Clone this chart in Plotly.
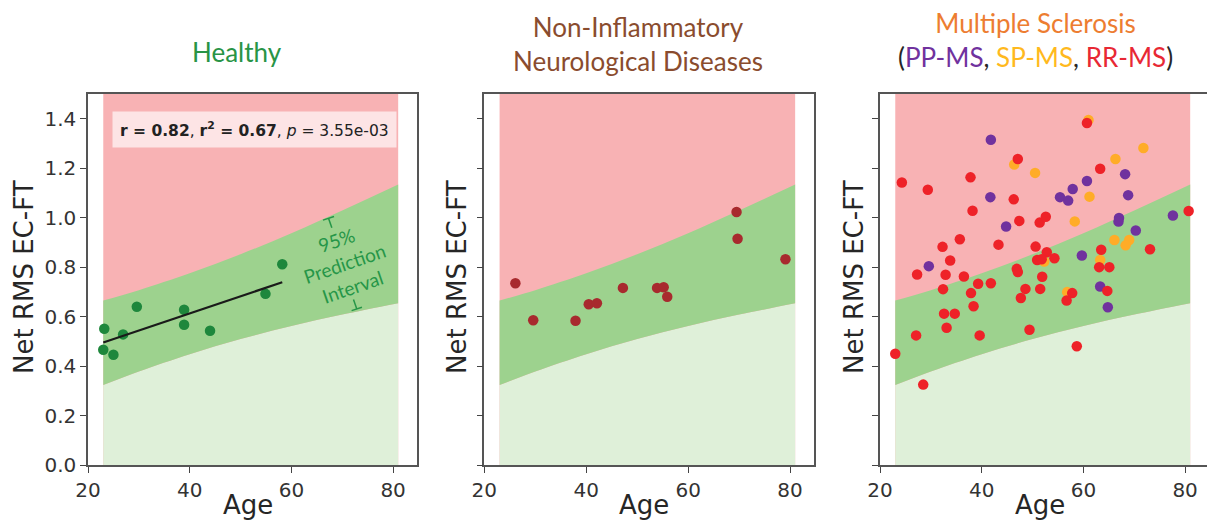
import plotly.graph_objects as go

# ---------------- data ----------------
band_age = [23, 30, 40, 50, 60, 70, 81]
band_upper = [0.665, 0.707, 0.775, 0.852, 0.937, 1.029, 1.134]
band_lower = [0.323, 0.378, 0.448, 0.509, 0.562, 0.608, 0.654]

healthy_age = [23.2, 23.0, 25.0, 26.9, 29.6, 38.9, 38.9, 44.0, 54.9, 58.2]
healthy_val = [0.551, 0.466, 0.446, 0.528, 0.640, 0.628, 0.567, 0.543, 0.692, 0.812]

fit_age = [23.0, 58.2]
fit_val = [0.495, 0.739]

nind_age = [26.1, 29.6, 37.9, 40.5, 42.1, 47.2, 53.9, 55.2, 55.9, 69.5, 69.7, 79.1]
nind_val = [0.735, 0.585, 0.583, 0.650, 0.654, 0.716, 0.716, 0.719, 0.680, 1.023, 0.915, 0.832]

sp_age = [61.0, 71.8, 66.3, 46.4, 50.5, 61.2, 58.3, 66.1, 69.0, 68.3, 63.3, 52.3, 56.8]
sp_val = [1.395, 1.282, 1.237, 1.215, 1.181, 1.085, 0.985, 0.910, 0.910, 0.888, 0.829, 0.823, 0.699]

pp_age = [41.8, 41.7, 29.6, 44.8, 55.4, 57.0, 57.9, 60.7, 68.2, 68.8, 67.0, 66.9, 70.3, 77.6, 59.7, 63.3, 64.8]
pp_val = [1.315, 1.083, 0.804, 0.964, 1.083, 1.069, 1.116, 1.148, 1.176, 1.091, 0.999, 0.984, 0.948, 1.009, 0.847, 0.722, 0.638]

rr_age = [60.7, 47.1, 63.3, 24.3, 29.4, 37.8, 46.3, 38.2, 47.4, 51.4, 52.6, 35.7, 43.3, 32.3, 50.6,
          52.8, 33.8, 50.9, 51.8, 54.3, 63.5, 73.1, 80.7, 46.9, 47.1, 63.1, 65.1, 27.3, 32.9, 36.5,
          51.9, 39.3, 41.8, 32.4, 37.9, 48.6, 51.5, 57.8, 64.7, 47.7, 56.7, 38.4, 32.6, 34.7, 33.1,
          27.1, 39.6, 49.4, 58.7, 23.0, 28.5]
rr_val = [1.383, 1.237, 1.198, 1.142, 1.113, 1.163, 1.074, 1.028, 0.987, 0.980, 1.004, 0.913, 0.891, 0.882, 0.883,
          0.860, 0.827, 0.829, 0.832, 0.836, 0.870, 0.872, 1.027, 0.793, 0.780, 0.800, 0.800, 0.770, 0.769, 0.762,
          0.761, 0.733, 0.735, 0.711, 0.695, 0.712, 0.712, 0.695, 0.704, 0.675, 0.665, 0.642, 0.612, 0.612, 0.555,
          0.524, 0.524, 0.547, 0.480, 0.450, 0.325]

x_ticks = [20, 40, 60, 80]
y_ticks = [0.0, 0.2, 0.4, 0.6, 0.8, 1.0, 1.2, 1.4]
X_RANGE = [20, 84.7]
Y_RANGE = [0, 1.5]

# ---------------- styles ----------------
PINK = "rgb(248,178,180)"
GREEN = "rgb(157,210,142)"
LIGHT = "rgb(223,240,217)"
TXT = "#262626"
OFF = 8                       # default page margin of the html body
W, H = 1215 - OFF, 527 - OFF


def px(p):
    return (p - OFF) / W


def py(p):
    return 1 - (p - OFF) / H


domains = [[px(88), px(417)], [px(484.3), px(814)], [px(880), px(1209)]]
ydom = [py(465), py(94)]

fig = go.Figure()


def add_band(i):
    xa = "x" if i == 0 else f"x{i+1}"
    ya = "y" if i == 0 else f"y{i+1}"
    fig.add_shape(type="rect", xref=xa, yref=ya, x0=band_age[0], x1=band_age[-1],
                  y0=Y_RANGE[0], y1=Y_RANGE[1], fillcolor=PINK, line_width=0, layer="below")
    fig.add_trace(go.Scatter(x=band_age, y=band_lower, xaxis=xa, yaxis=ya, mode="lines",
                             line=dict(width=0, shape="spline"), fill="tozeroy", fillcolor=LIGHT,
                             hoverinfo="skip", showlegend=False))
    fig.add_trace(go.Scatter(x=band_age, y=band_upper, xaxis=xa, yaxis=ya, mode="lines",
                             line=dict(width=0, shape="spline"), fill="tonexty", fillcolor=GREEN,
                             hoverinfo="skip", showlegend=False))
    return xa, ya


def pts(x, y, xa, ya, color, name):
    fig.add_trace(go.Scatter(x=x, y=y, xaxis=xa, yaxis=ya, mode="markers", name=name,
                             marker=dict(size=10.5, color=color, line=dict(width=0)),
                             showlegend=False))


# panel 1
xa, ya = add_band(0)
pts(healthy_age, healthy_val, xa, ya, "rgb(30,135,60)", "Healthy")
fig.add_trace(go.Scatter(x=fit_age, y=fit_val, xaxis=xa, yaxis=ya, mode="lines",
                         line=dict(color="#1a1a1a", width=2.2), showlegend=False))
# panel 2
xa, ya = add_band(1)
pts(nind_age, nind_val, xa, ya, "rgb(168,42,46)", "NIND")
# panel 3
xa, ya = add_band(2)
pts(sp_age, sp_val, xa, ya, "rgb(255,172,40)", "SP-MS")
pts(pp_age, pp_val, xa, ya, "rgb(112,50,158)", "PP-MS")
pts(rr_age, rr_val, xa, ya, "rgb(238,34,40)", "RR-MS")

axis_common = dict(showgrid=False, zeroline=False, showline=True, linecolor="#555555",
                   linewidth=1.5, mirror=True, ticks="outside", ticklen=6, tickwidth=1.3,
                   tickcolor="#444444", tickfont=dict(family="DejaVu Sans", size=20, color="#333333"),
                   automargin=False, fixedrange=True)

layout = dict(width=W, height=H, margin=dict(l=0, r=0, t=0, b=0),
              paper_bgcolor="white", plot_bgcolor="white", template="none", showlegend=False)
for i in range(3):
    sx = "" if i == 0 else str(i + 1)
    layout[f"xaxis{sx}"] = dict(axis_common, domain=domains[i], range=X_RANGE, tickvals=x_ticks,
                                anchor=f"y{sx}")
    layout[f"yaxis{sx}"] = dict(axis_common, domain=ydom, range=Y_RANGE, tickvals=y_ticks,
                                tickformat=".1f", anchor=f"x{sx}", showticklabels=(i == 0))
fig.update_layout(**layout)

ann = []
# axis titles
for i, xpix in enumerate([24, 457, 854]):
    ann.append(dict(text="Net RMS EC-FT", xref="paper", yref="paper", x=px(xpix),
                    y=py(277), textangle=-90, showarrow=False, xanchor="center",
                    yanchor="middle", font=dict(family="DejaVu Sans", size=26, color=TXT)))
    sx = "" if i == 0 else str(i + 1)
    ann.append(dict(text="Age", xref=f"x{sx} domain", yref="paper", x=0.485, y=py(505),
                    showarrow=False, xanchor="center", yanchor="middle",
                    font=dict(family="DejaVu Sans", size=26, color=TXT)))

# panel titles
TF = "Lato"
ann.append(dict(text="Healthy", xref="paper", yref="paper", x=px(236.7), y=py(51.7),
                showarrow=False, xanchor="center", yanchor="middle",
                font=dict(family=TF, size=26, color="rgb(40,148,70)")))
ann.append(dict(text="Non-Inflammatory<br>Neurological Diseases", xref="paper", yref="paper",
                x=px(638), y=py(44.2), showarrow=False, xanchor="center", yanchor="middle",
                font=dict(family=TF, size=26, color="rgb(138,76,46)")))
ann.append(dict(text="Multiple Sclerosis<br>"
                     "<span style='color:#262626'>(</span>"
                     "<span style='color:rgb(112,50,158)'>PP-MS</span>"
                     "<span style='color:#262626'>, </span>"
                     "<span style='color:rgb(255,185,30)'>SP-MS</span>"
                     "<span style='color:#262626'>, </span>"
                     "<span style='color:rgb(232,40,52)'>RR-MS</span>"
                     "<span style='color:#262626'>)</span>",
                xref="paper", yref="paper", x=px(1035.5), y=py(39.5), showarrow=False,
                xanchor="center", yanchor="middle",
                font=dict(family=TF, size=26, color="rgb(237,125,49)")))

# stats box
ann.append(dict(text="<b>r = 0.82</b>, <b>r<sup>2</sup> = 0.67</b>, <i>p</i> = 3.55e-03",
                xref="paper", yref="paper", x=px(254), y=py(129.7), showarrow=False,
                xanchor="center", yanchor="middle", bgcolor="rgba(255,255,255,0.65)", borderpad=7,
                font=dict(family="DejaVu Sans", size=15.5, color="#222222")))

# prediction interval label
PI_GREEN = "rgb(38,150,72)"
ann.append(dict(text="95%<br>Prediction<br>Interval", xref="x", yref="y", x=70.5, y=0.815,
                textangle=-19, showarrow=False, xanchor="center", yanchor="middle",
                font=dict(family=TF, size=19, color=PI_GREEN)))
fig.update_layout(annotations=ann)

# bracket marks for the label
brackets = [((66.21, 0.990), (68.38, 1.005)), ((67.30, 0.998), (67.95, 0.959)),
            ((72.21, 0.669), (72.86, 0.631)), ((71.84, 0.624), (73.88, 0.638))]
for (x0, y0), (x1, y1) in brackets:
    fig.add_shape(type="line", xref="x", yref="y", x0=x0, y0=y0, x1=x1, y1=y1,
                  line=dict(color=PI_GREEN, width=1.5))

fig.write_html("out.html")
